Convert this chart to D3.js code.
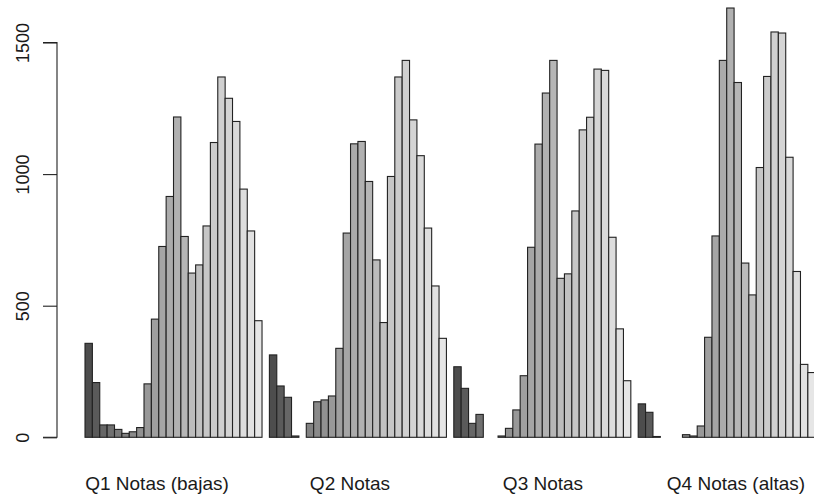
<!DOCTYPE html>
<html>
<head>
<meta charset="utf-8">
<script src="https://cdn.jsdelivr.net/npm/d3@7"></script>
<style>
  html, body { margin: 0; padding: 0; background: #ffffff; }
  svg { display: block; }
  text { font-family: "Liberation Sans", Arial, sans-serif; fill: #1a1a1a; }
</style>
</head>
<body>
<svg id="chart" width="814" height="500"></svg>
<script>
// ---- data ----
const groups = ["Q1 Notas (bajas)", "Q2 Notas", "Q3 Notas", "Q4 Notas (altas)"];
const q1 = [357, 208, 47, 47, 30, 15, 21, 37, 203, 449, 725, 915, 1217, 763, 624, 655, 803, 1120, 1369, 1288, 1200, 943, 784, 443];
const q2 = [313, 195, 152, 5, 0, 53, 135, 142, 157, 338, 776, 1115, 1124, 972, 674, 436, 991, 1369, 1432, 1206, 1070, 795, 575, 376];
const q3 = [268, 186, 53, 87, 0, 0, 5, 34, 104, 234, 722, 1114, 1308, 1432, 604, 621, 860, 1168, 1216, 1399, 1394, 760, 412, 215];
const q4 = [127, 95, 3, 0, 0, 0, 10, 5, 43, 380, 765, 1432, 1631, 1348, 662, 541, 1025, 1371, 1540, 1536, 1064, 630, 277, 246];
const yTicks = [0, 500, 1000, 1500];

const series = [q1, q2, q3, q4];
const nBars = q1.length;

// ---- layout ----
const svg = d3.select("#chart");
const unit = 7.376;
const x0 = 85 - unit;               // left edge of the leading space
const x = d3.scaleLinear().domain([0, 4 * (nBars + 1)]).range([x0, x0 + 4 * (nBars + 1) * unit]);
const y = d3.scaleLinear().domain([0, 1500]).range([437.3, 42.5]);
// group labels sit on a slightly wider spread than the bar groups
const xLabel = d3.scalePoint().domain(groups).range([157, 736]);

// R's default gray.colors(n, start=0.3, end=0.9, gamma=2.2)
const gam = 2.2, s0 = Math.pow(0.3, gam), s1 = Math.pow(0.9, gam);
const colors = d3.range(nBars).map(i => {
  const v = Math.round(255 * Math.pow(s0 + (s1 - s0) * i / (nBars - 1), 1 / gam));
  return d3.rgb(v, v, v).formatHex();
});

// ---- bars ----
const barData = [];
series.forEach((vals, g) => {
  vals.forEach((v, i) => {
    const pos = g * (nBars + 1) + 1 + i;
    barData.push({ g, i, v, pos });
  });
});

svg.append("g").selectAll("rect").data(barData).join("rect")
  .attr("x", d => x(d.pos))
  .attr("y", d => y(d.v))
  .attr("width", d => x(d.pos + 1) - x(d.pos))
  .attr("height", d => y(0) - y(d.v))
  .attr("fill", d => colors[d.i])
  .attr("stroke", "#222")
  .attr("stroke-width", 1.1);

// ---- y axis ----
const yAxis = d3.axisLeft(y).tickValues(yTicks).tickSize(14).tickPadding(0).tickFormat(d3.format("d"));
const ya = svg.append("g").attr("transform", "translate(57,0)").call(yAxis);
ya.select(".domain").attr("stroke", "#222").attr("stroke-width", 1.1)
  .attr("d", `M-14,${y(0)}H0V${y(1500)}H-14`);
ya.selectAll(".tick line").attr("stroke", "#222").attr("stroke-width", 1.1)
  .attr("x1", -14).attr("x2", 0);
ya.selectAll(".tick text")
  .attr("x", null).attr("dy", null)
  .attr("transform", "translate(-28,0) rotate(-90)")
  .attr("text-anchor", "middle")
  .attr("font-size", 18)
  .attr("fill", "#1a1a1a");

// ---- group labels ----
svg.append("g").selectAll("text").data(groups).join("text")
  .attr("x", d => xLabel(d))
  .attr("y", 490)
  .attr("text-anchor", "middle")
  .attr("font-size", 19)
  .text(d => d);
</script>
</body>
</html>
